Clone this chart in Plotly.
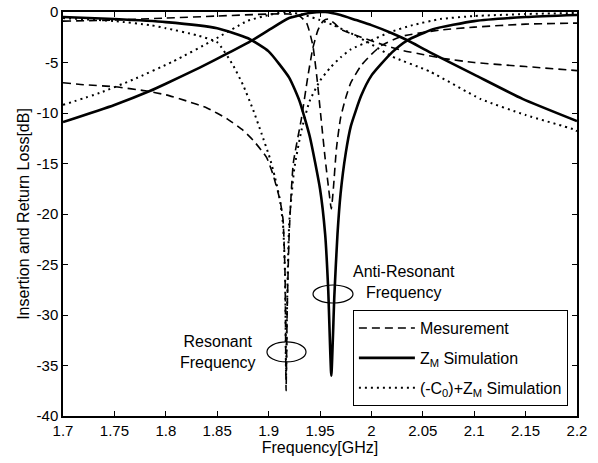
import plotly.graph_objects as go

# ---------------- data ----------------
meas_s21_f = [1.70, 1.72, 1.75, 1.78, 1.80, 1.82, 1.84, 1.86, 1.875, 1.885, 1.898, 1.904, 1.911, 1.914,
              1.916, 1.917, 1.918, 1.920, 1.924, 1.932, 1.938, 1.943, 1.948, 1.953, 1.958, 1.965,
              1.970, 1.990, 2.010, 2.030, 2.050, 2.070, 2.100, 2.150, 2.200]
meas_s21_db = [-7.0, -7.2, -7.4, -7.8, -8.2, -8.8, -9.5, -10.6, -11.7, -12.7, -14.4, -16.0, -18.6, -20.5,
               -26.0, -37.5, -30.0, -22.0, -15.0, -10.5, -6.5, -3.6, -1.8, -0.9, -0.7, -1.2,
               -1.7, -2.5, -3.2, -3.8, -4.2, -4.6, -5.0, -5.4, -5.8]

meas_s11_f = [1.70, 1.75, 1.80, 1.85, 1.90, 1.92, 1.93, 1.937, 1.943, 1.947, 1.951, 1.955, 1.959, 1.961,
              1.963, 1.966, 1.970, 1.975, 1.980, 1.990, 2.000, 2.010, 2.030, 2.066, 2.100, 2.150, 2.200]
meas_s11_db = [-0.9, -0.8, -0.6, -0.4, -0.2, -0.2, -0.4, -1.1, -3.3, -6.5, -10.5, -14.5, -18.0, -19.5,
               -17.5, -13.5, -10.5, -8.5, -7.0, -5.3, -4.2, -3.3, -2.4, -1.8, -1.5, -1.2, -1.1]

zm_s21_f = [1.70, 1.75, 1.80, 1.85, 1.88, 1.90, 1.92, 1.93, 1.94, 1.95, 1.955, 1.958, 1.961, 1.964, 1.967,
            1.970, 1.975, 1.980, 1.990, 2.000, 2.020, 2.035, 2.060, 2.100, 2.150, 2.200]
zm_s21_db = [-0.5, -0.7, -1.0, -1.6, -2.6, -3.9, -6.5, -8.8, -12.3, -17.5, -22.0, -27.5, -36.0, -28.0, -22.0,
             -18.0, -14.0, -11.3, -8.3, -6.3, -4.0, -2.8, -1.7, -0.9, -0.5, -0.3]

zm_s11_f = [1.70, 1.75, 1.785, 1.80, 1.833, 1.86, 1.884, 1.90, 1.92, 1.94, 1.955, 1.97, 1.985, 2.00, 2.02,
            2.035, 2.057, 2.10, 2.147, 2.200]
zm_s11_db = [-10.9, -9.2, -7.8, -7.1, -5.5, -4.1, -2.8, -1.8, -0.6, -0.1, 0.0, -0.3, -0.8, -1.3, -2.1,
             -2.8, -4.0, -6.2, -8.6, -10.8]

c0_s21_f = [1.70, 1.75, 1.785, 1.80, 1.83, 1.85, 1.865, 1.875, 1.885, 1.893, 1.901, 1.906, 1.911, 1.914,
            1.916, 1.917, 1.918, 1.920, 1.925, 1.932, 1.940, 1.950, 1.960, 1.970, 1.980, 2.000, 2.018,
            2.040, 2.067, 2.100, 2.150, 2.200]
c0_s21_db = [-0.6, -0.9, -1.3, -1.6, -2.3, -3.0, -5.2, -7.2, -9.7, -12.0, -14.4, -16.3, -18.6, -21.0,
             -26.0, -36.0, -29.0, -21.0, -15.5, -11.7, -8.8, -6.8, -5.5, -4.5, -3.7, -2.8, -2.0,
             -1.3, -0.7, -0.4, -0.2, -0.1]

c0_s11_f = [1.70, 1.736, 1.768, 1.807, 1.846, 1.879, 1.90, 1.917, 1.935, 1.95, 1.963, 1.98, 2.00, 2.02,
            2.057, 2.106, 2.15, 2.196, 2.20]
c0_s11_db = [-9.2, -8.0, -6.7, -4.9, -2.8, -0.9, -0.3, 0.0, -0.3, -0.8, -1.3, -2.1, -3.2, -4.4,
             -5.9, -8.6, -10.2, -11.6, -11.8]

x_tickvals = [1.7, 1.75, 1.8, 1.85, 1.9, 1.95, 2.0, 2.05, 2.1, 2.15, 2.2]
x_ticktext = ["1.7", "1.75", "1.8", "1.85", "1.9", "1.95", "2", "2.05", "2.1", "2.15", "2.2"]
y_tickvals = [0, -5, -10, -15, -20, -25, -30, -35, -40]
y_ticktext = ["0", "-5", "-10", "-15", "-20", "-25", "-30", "-35", "-40"]

legend_names = ["Mesurement", "Z<sub>M</sub> Simulation", "(-C<sub>0</sub>)+Z<sub>M</sub> Simulation"]

FONT = "Liberation Sans, Arial, Helvetica, sans-serif"

fig = go.Figure()

def add(fx, fy, name, group, show, dash, width):
    fig.add_trace(go.Scatter(
        x=fx, y=fy, mode="lines", name=name, legendgroup=group, showlegend=show,
        line=dict(color="black", dash=dash, width=width, shape="spline", smoothing=0.5),
        hoverinfo="skip"))

add(meas_s21_f, meas_s21_db, legend_names[0], "m", True, "8px,5px", 1.6)
add(meas_s11_f, meas_s11_db, legend_names[0], "m", False, "8px,5px", 1.6)
add(zm_s21_f, zm_s21_db, legend_names[1], "z", True, "solid", 2.6)
add(zm_s11_f, zm_s11_db, legend_names[1], "z", False, "solid", 2.6)
add(c0_s21_f, c0_s21_db, legend_names[2], "c", True, "2px,4px", 2.0)
add(c0_s11_f, c0_s11_db, legend_names[2], "c", False, "2px,4px", 2.0)

axis_common = dict(showline=True, linecolor="black", linewidth=1.5, mirror="ticks",
                   ticks="inside", ticklen=5, tickcolor="black", tickwidth=1,
                   showgrid=False, zeroline=False, automargin=False,
                   tickfont=dict(family=FONT, size=15, color="black"))

fig.update_layout(
    width=598, height=463,
    margin=dict(l=63, r=21, t=12, b=47),
    paper_bgcolor="white", plot_bgcolor="white",
    font=dict(family=FONT, color="black", size=15),
    xaxis=dict(range=[1.7, 2.2], tickvals=x_tickvals, ticktext=x_ticktext,
               title=dict(text="Frequency[GHz]", font=dict(family=FONT, size=16), standoff=4),
               **axis_common),
    yaxis=dict(range=[-40, 0], tickvals=y_tickvals, ticktext=y_ticktext,
               title=dict(text="Insertion and Return Loss[dB]", font=dict(family=FONT, size=16), standoff=3),
               **axis_common),
    legend=dict(x=0.564, y=0.262, xanchor="left", yanchor="top",
                bgcolor="white", bordercolor="black", borderwidth=1,
                font=dict(family=FONT, size=16, color="black"),
                tracegroupgap=6, itemwidth=56),
    showlegend=True,
    hovermode=False,
)

# annotations
fig.add_annotation(x=2.0317, y=-26.7, text="Anti-Resonant<br>Frequency", showarrow=False,
                   font=dict(family=FONT, size=16, color="black"), align="center")
fig.add_annotation(x=1.8508, y=-33.7, text="Resonant<br>Frequency", showarrow=False,
                   font=dict(family=FONT, size=16, color="black"), align="center")
fig.add_shape(type="circle", xref="x", yref="y", x0=1.8984, x1=1.9364, y0=-34.65, y1=-32.67,
              line=dict(color="black", width=1.2))
fig.add_shape(type="circle", xref="x", yref="y", x0=1.9432, x1=1.9821, y0=-28.81, y1=-27.03,
              line=dict(color="black", width=1.2))

# remove the default 8px page margin so the figure sits at the window origin
fig.write_html("out.html",
               config={"displayModeBar": False, "staticPlot": False},
               post_script="document.body.style.margin='0';document.body.style.padding='0';")
